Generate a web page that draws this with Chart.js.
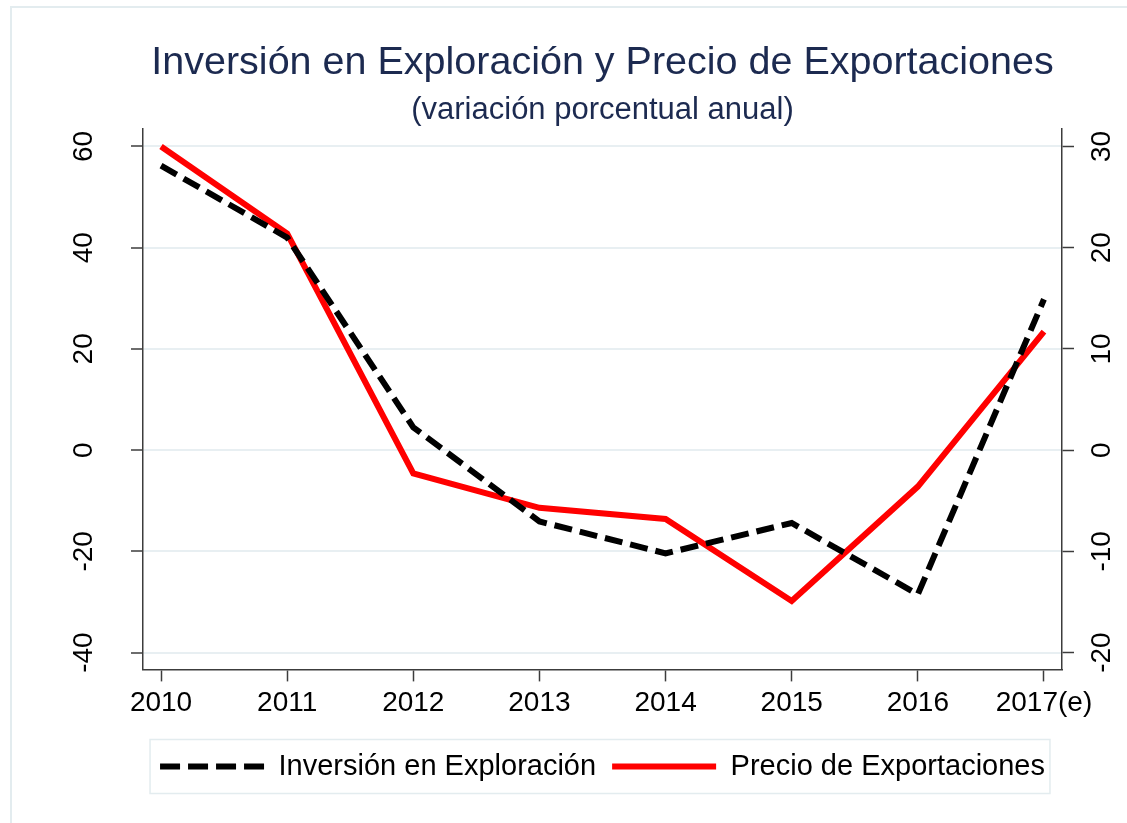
<!DOCTYPE html>
<html>
<head>
<meta charset="utf-8">
<script src="https://cdn.jsdelivr.net/npm/chart.js@4.4.1/dist/chart.umd.min.js"></script>
<style>
  html, body { margin: 0; padding: 0; background: #fff; }
  #wrap { width: 1127px; height: 823px; }
</style>
</head>
<body>
<div id="wrap"><canvas id="lineChart" width="1127" height="823"></canvas></div>
<script>
// data
var years = [2010, 2011, 2012, 2013, 2014, 2015, 2016, 2017];
var yearLabels = ["2010", "2011", "2012", "2013", "2014", "2015", "2016", "2017(e)"];
var inversion = [56.2, 42.0, 4.5, -14.1, -20.4, -14.4, -28.5, 29.8];   // left axis
var precio = [30.0, 21.4, -2.3, -5.7, -6.8, -14.9, -3.6, 11.7];         // right axis
var leftTicks = [-40, -20, 0, 20, 40, 60];
var rightTicks = [-20, -10, 0, 10, 20, 30];

Chart.defaults.font.family = "'Liberation Sans', Arial, sans-serif";
Chart.defaults.color = '#000';

var axisColor = '#3c3c3c';
var gridColor = '#e8eff2';

// light frame round the whole graph + box round the legend
var framePlugin = {
  id: 'frames',
  beforeDraw: function (chart) {
    var c = chart.ctx;
    c.save();
    c.strokeStyle = '#e3ecef';
    c.lineWidth = 2;
    c.strokeRect(11, 7, chart.width + 20, chart.height + 20);
    c.restore();
  },
  afterDraw: function (chart) {
    var lg = chart.legend;
    if (!lg || !lg.legendHitBoxes || !lg.legendHitBoxes.length) return;
    var hb = lg.legendHitBoxes;
    var l = hb[0].left, r = hb[hb.length - 1].left + hb[hb.length - 1].width;
    var cy = hb[0].top + hb[0].height / 2;
    var c = chart.ctx;
    c.save();
    c.strokeStyle = '#e3ecef';
    c.lineWidth = 1.5;
    c.strokeRect(l - 10, cy - 27, (r - l) + 15, 54);
    c.restore();
  }
};

var lineData = {
  datasets: [
    {
      label: "Inversión en Exploración",
      data: years.map(function (yr, i) { return { x: yr, y: inversion[i] }; }),
      yAxisID: 'y',
      borderColor: '#000',
      backgroundColor: '#000',
      borderWidth: 6,
      borderDash: [18, 8],
      pointRadius: 0,
      tension: 0
    },
    {
      label: "Precio de Exportaciones",
      data: years.map(function (yr, i) { return { x: yr, y: precio[i] }; }),
      yAxisID: 'y1',
      borderColor: '#ff0000',
      backgroundColor: '#ff0000',
      borderWidth: 6,
      pointRadius: 0,
      tension: 0
    }
  ]
};

var legendDash = [[20, 8], []];

var lineOptions = {
  responsive: false,
  animation: false,
  layout: { padding: { left: 0, right: 0, top: 0, bottom: 32 } },
  plugins: {
    title: {
      display: true,
      fullSize: false,
      text: 'Inversión en Exploración y Precio de Exportaciones',
      color: '#1c2a50',
      font: { size: 39.5, weight: 'normal' },
      padding: { top: 39, bottom: 5 }
    },
    subtitle: {
      display: true,
      fullSize: false,
      text: '(variación porcentual anual)',
      color: '#1c2a50',
      font: { size: 31, weight: 'normal' },
      padding: { top: 0, bottom: 0 }
    },
    legend: {
      position: 'bottom',
      fullSize: false,
      labels: {
        usePointStyle: true,
        pointStyle: 'line',
        pointStyleWidth: 104,
        padding: 16,
        color: '#000',
        font: { size: 29 },
        generateLabels: function (chart) {
          var items = Chart.defaults.plugins.legend.labels.generateLabels(chart);
          items.forEach(function (it, i) {
            it.lineDash = legendDash[i];
            it.lineWidth = 6;
            it.strokeStyle = chart.data.datasets[i].borderColor;
          });
          return items;
        }
      }
    },
    tooltip: { enabled: false }
  },
  scales: {
    x: {
      type: 'linear',
      min: 2009.857,
      max: 2017.143,
      afterBuildTicks: function (s) { s.ticks = years.map(function (v) { return { value: v }; }); },
      afterFit: function (s) { s.height += 11; },
      ticks: {
        padding: 5,
        font: { size: 28 },
        color: '#000',
        maxRotation: 0,
        callback: function (v, i) { return yearLabels[i]; }
      },
      grid: { drawOnChartArea: false, tickLength: 12, tickColor: axisColor, tickWidth: 1.5 },
      border: { display: true, color: axisColor, width: 1.5 }
    },
    y: {
      position: 'left',
      min: -43.33,
      max: 63.52,
      afterBuildTicks: function (s) { s.ticks = leftTicks.map(function (v) { return { value: v }; }); },
      afterFit: function (s) { s.width = 143; },
      ticks: {
        minRotation: 90,
        maxRotation: 90,
        crossAlign: 'center',
        padding: 26,
        font: { size: 28 },
        color: '#000'
      },
      grid: { color: gridColor, lineWidth: 2, tickLength: 12, tickColor: axisColor, tickWidth: 1.5 },
      border: { display: true, color: axisColor, width: 1.5 }
    },
    y1: {
      position: 'right',
      min: -21.66,
      max: 31.76,
      afterBuildTicks: function (s) { s.ticks = rightTicks.map(function (v) { return { value: v }; }); },
      afterFit: function (s) { s.width = 65; },
      ticks: {
        minRotation: 90,
        maxRotation: 90,
        crossAlign: 'center',
        padding: 8,
        font: { size: 28 },
        color: '#000'
      },
      grid: { drawOnChartArea: false, tickLength: 12, tickColor: axisColor, tickWidth: 1.5 },
      border: { display: true, color: axisColor, width: 1.5 }
    }
  }
};

var ctx = document.getElementById("lineChart").getContext("2d");
new Chart(ctx, { type: 'line', data: lineData, options: lineOptions, plugins: [framePlugin] });
</script>
</body>
</html>
